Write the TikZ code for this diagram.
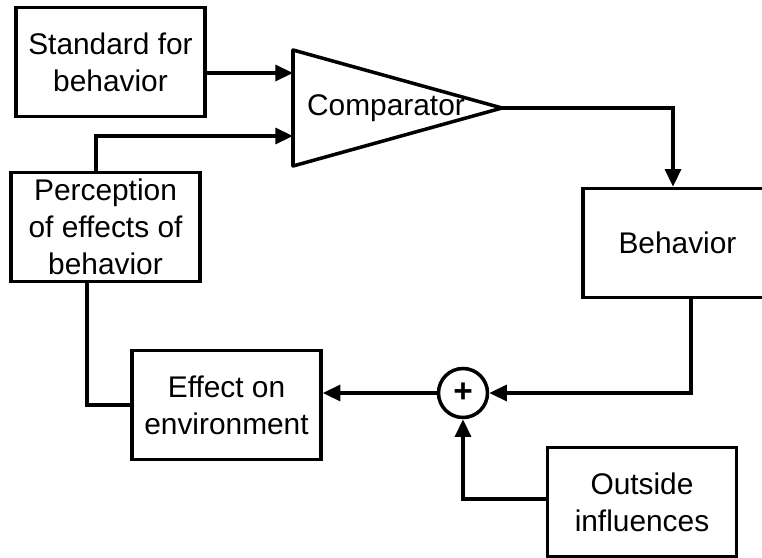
\documentclass[tikz,border=0pt]{standalone}
\usepackage{fontspec}
\setmainfont{Liberation Sans}
\usetikzlibrary{arrows.meta}

\begin{document}
\begin{tikzpicture}[x=0.02cm,y=-0.02cm,line width=2pt,
    >={Triangle[length=10pt,width=9pt]},
    box/.style={draw,minimum width=3.78cm,minimum height=2.18cm,inner sep=0pt,
      align=center,font=\fontsize{17}{21}\selectfont}]
  \useasboundingbox (0,0) rectangle (762,558);

  \node[box] (std) at (110.5,62) {Standard for\\behavior};
  \node[box] (perc) at (105.5,227) {Perception\\of effects of\\behavior};
  \node[box] (beh) at (677.5,243) {Behavior};
  \node[box] (eff) at (226.5,405) {Effect on\\environment};
  \node[box] (out) at (642,502) {Outside\\influences};
  \node[draw,circle,minimum size=0.98cm,inner sep=0pt,
    font=\bfseries\fontsize{19}{19}\selectfont] (sum) at (463,393) {+};

  % comparator
  \coordinate (cmptop) at (293,50);
  \coordinate (cmpbot) at (293,166);
  \coordinate (tip) at (502,108);
  \draw[line join=round] (cmptop) -- (tip) -- (cmpbot) -- cycle;
  \node[font=\fontsize{17}{21}\selectfont] (cmp) at (386,108) {Comparator};

  \coordinate (in1) at (293,73);
  \coordinate (in2) at (293,136);
  \coordinate (pup) at (96,136);
  \coordinate (pdown) at (87,405);
  \coordinate (turn) at (673,108);
  \coordinate (bdown) at (691,393);
  \coordinate (oin) at (463,499);

  \draw[->] (std.east |- in1) -- (in1);
  \draw[->] (perc.north -| pup) -- (pup) -- (in2);
  \draw[->] (tip) -- (turn) -- (turn |- beh.north);
  \draw[->] (beh.south -| bdown) -- (bdown) -- (sum.east);
  \draw[->] (sum.west) -- (eff.east |- sum.west);
  \draw[->] (out.west |- oin) -- (oin) -- (sum.south);
  \draw (perc.south -| pdown) -- (pdown) -- (eff.west);
\end{tikzpicture}
\end{document}
